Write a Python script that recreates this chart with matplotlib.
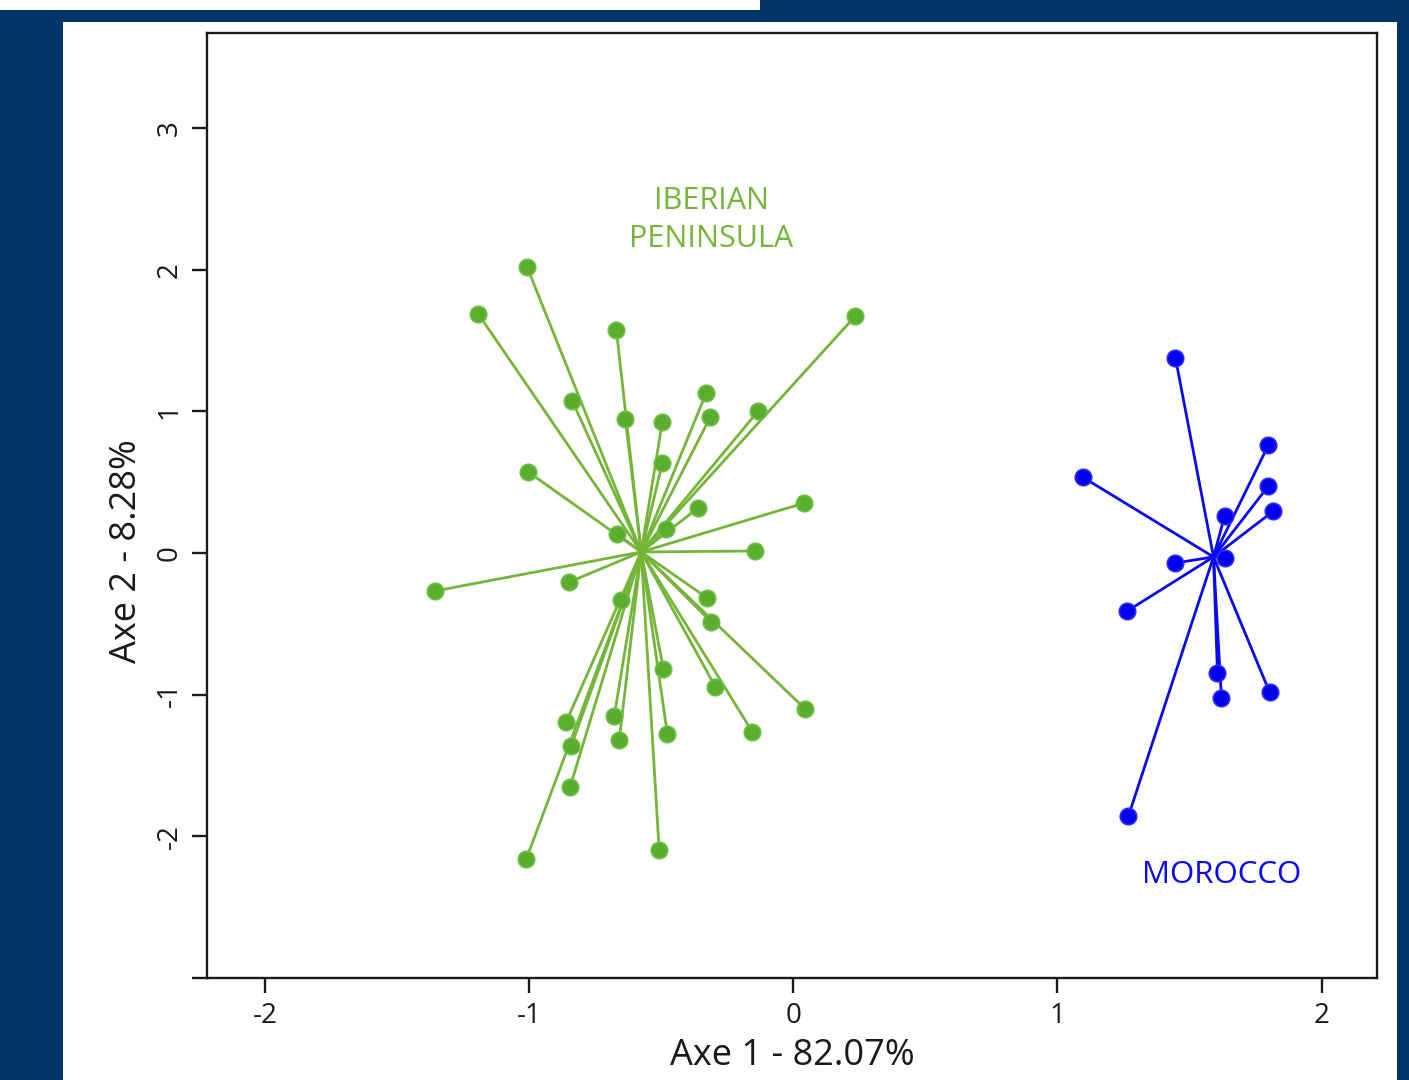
import matplotlib.pyplot as plt
from matplotlib.patches import Rectangle

# PCA scores (axis 1, axis 2)
iberia_x = [-1.008, -1.193, -0.670, 0.235, -0.837, -0.330, -0.636, -0.496, -0.314, -0.133,
            -1.004, -0.496, -0.360, -0.667, -0.481, 0.042, -0.144, -1.356, -0.848, -0.652,
            -0.326, -0.311, -0.492, -0.295, 0.045, -0.860, -0.678, -0.841, -0.659, -0.477,
            -0.155, -0.845, -1.011, -0.508]
iberia_y = [2.018, 1.687, 1.574, 1.673, 1.073, 1.129, 0.946, 0.925, 0.960, 1.002,
            0.572, 0.635, 0.318, 0.134, 0.169, 0.353, 0.014, -0.268, -0.205, -0.332,
            -0.318, -0.487, -0.819, -0.946, -1.101, -1.193, -1.150, -1.362, -1.320, -1.277,
            -1.263, -1.651, -2.160, -2.096]
iberia_centre = (-0.576, 0.007)

morocco_x = [1.447, 1.095, 1.799, 1.799, 1.818, 1.633, 1.633, 1.447, 1.265, 1.606,
             1.621, 1.803, 1.269]
morocco_y = [1.376, 0.536, 0.762, 0.473, 0.296, 0.261, -0.035, -0.071, -0.409, -0.847,
             -1.023, -0.981, -1.856]
morocco_centre = (1.591, -0.028)

x_ticks = [-2, -1, 0, 1, 2]
y_ticks = [-3, -2, -1, 0, 1, 2, 3]
y_ticklabels = ['', '-2', '-1', '0', '1', '2', '3']

GREEN_LINE = '#74B53A'
GREEN_DOT = '#5BAD2E'
GREEN_EDGE = '#6CBF45'
BLUE = '#0A0AF0'
NAVY = '#02356A'
INK = '#1A1A1A'

plt.rcParams['font.family'] = ['Open Sans', 'DejaVu Sans']

fig = plt.figure(figsize=(14.09, 10.8), dpi=100)
fig.patch.set_facecolor(NAVY)
# white panel and the thin white strip at the top left
fig.add_artist(Rectangle((63 / 1409, 0), (1397 - 63) / 1409, 1 - 22 / 1080,
                         transform=fig.transFigure, facecolor='white', edgecolor='none', zorder=-10))
fig.add_artist(Rectangle((0, 1 - 10 / 1080), 760 / 1409, 10 / 1080,
                         transform=fig.transFigure, facecolor='white', edgecolor='none', zorder=-10))

ax = fig.add_axes([207 / 1409, 1 - 978 / 1080, (1377 - 207) / 1409, (978 - 33) / 1080])
ax.set_facecolor('white')


def star(ax, xs, ys, centre, line_col, dot_col, edge_col):
    cx, cy = centre
    for x, y in zip(xs, ys):
        ax.plot([cx, x], [cy, y], color=line_col, lw=2.0, zorder=2, solid_capstyle='round')
    ax.scatter(xs, ys, s=140, color=dot_col, edgecolors=edge_col, linewidths=1.2, zorder=3)


star(ax, iberia_x, iberia_y, iberia_centre, GREEN_LINE, GREEN_DOT, GREEN_EDGE)
star(ax, morocco_x, morocco_y, morocco_centre, BLUE, '#0000EE', '#2A2AFF')

ax.text(-0.31, 2.35, 'IBERIAN\nPENINSULA', color=GREEN_LINE, fontsize=22,
        ha='center', va='center', linespacing=1.35)
ax.text(1.62, -2.27, 'MOROCCO', color=BLUE, fontsize=22.5, ha='center', va='center')

ax.set_xlim(-2.22, 2.21)
ax.set_ylim(-3.0, 3.67)
ax.set_xticks(x_ticks)
ax.set_xticklabels([str(t) for t in x_ticks])
ax.set_yticks(y_ticks)
ax.set_yticklabels(y_ticklabels, rotation=90, va='center')

for s in ax.spines.values():
    s.set_linewidth(1.7)
    s.set_color(INK)
ax.tick_params(direction='out', length=11, width=1.7, color=INK,
               labelsize=20, labelcolor=INK, pad=6)

ax.set_xlabel('Axe 1 - 82.07%', fontsize=26, color=INK, labelpad=6)
ax.set_ylabel('Axe 2 - 8.28%', fontsize=26, color=INK)
ax.yaxis.set_label_coords(-0.053, 0.452)

fig.savefig('out.png', dpi=100, facecolor=fig.get_facecolor())
